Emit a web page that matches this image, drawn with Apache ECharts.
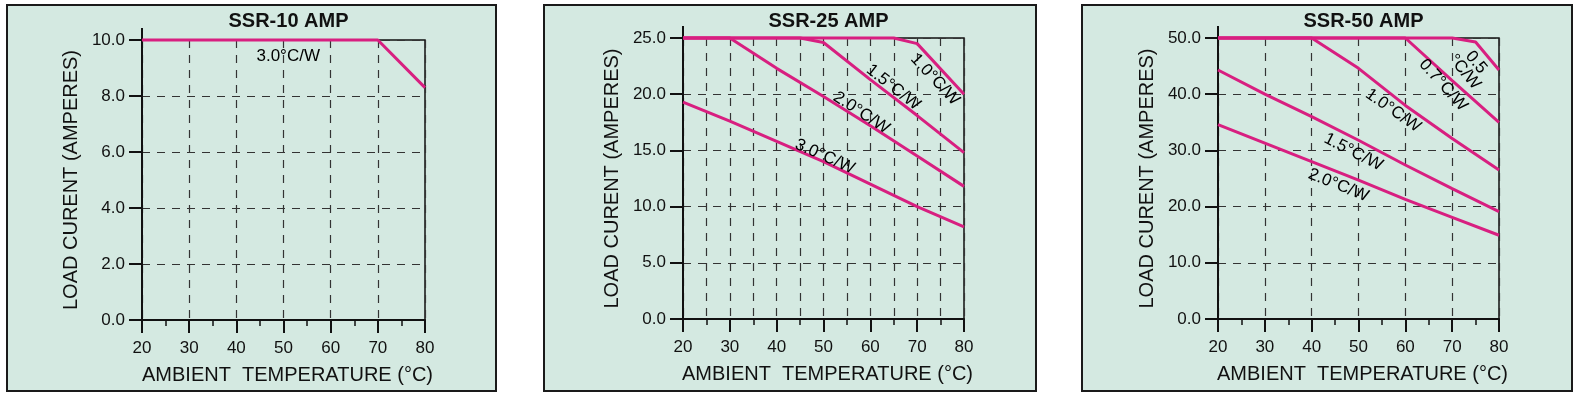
<!DOCTYPE html>
<html lang="en">
<head>
    <meta charset="utf-8">
    <title>SSR derating curves</title>
    <script type="text/javascript" src="https://cdn.jsdelivr.net/npm/echarts@6/dist/echarts.min.js"></script>
    <style>
        body { margin: 0; background: #fff; width: 1584px; height: 396px; position: relative; overflow: hidden; }
        .panel { position: absolute; top: 4px; height: 388px; box-sizing: border-box; border: 2px solid #1a1a1a; background: #d4e9e1; }
    </style>
</head>
<body>
<div id="p1" class="panel" style="left:6px;width:491px;"></div>
<div id="p2" class="panel" style="left:543px;width:494px;"></div>
<div id="p3" class="panel" style="left:1081px;width:492px;"></div>
<script>
    // x axis ticks (ambient temperature, °C)
    var tempTicks = [20, 30, 40, 50, 60, 70, 80];

    // SSR-10 AMP
    var ssr10_30 = [[20, 10], [70, 10], [80, 8.3]];
    var ssr10Labels = [[51, 9.4]];
    var ssr10Names = ['3.0°C/W'];
    var ssr10Angles = [0];

    // SSR-25 AMP
    var ssr25_10 = [[20, 25], [65, 25], [70, 24.5], [80, 20]];
    var ssr25_15 = [[20, 25], [45, 25], [50, 24.6], [60, 21.3], [70, 18.1], [80, 14.8]];
    var ssr25_20 = [[20, 25], [30, 25], [40, 22.3], [50, 19.8], [60, 17.2], [70, 14.5], [80, 11.8]];
    var ssr25_30 = [[20, 19.3], [30, 17.6], [40, 15.8], [50, 14.0], [60, 12.0], [70, 10.0], [80, 8.2]];
    var ssr25Labels = [[73.8, 21.3], [64.9, 20.6], [58.1, 18.35], [50.3, 14.45]];
    var ssr25Names = ['1.0°C/W', '1.5°C/W', '2.0°C/W', '3.0°C/W'];
    var ssr25Angles = [-47, -38, -33, -24];

    // SSR-50 AMP
    var ssr50_05 = [[20, 50], [70, 50], [75, 49.3], [80, 44.3]];
    var ssr50_07 = [[20, 50], [60, 50], [70, 42.4], [80, 35]];
    var ssr50_10 = [[20, 50], [40, 50], [50, 44.6], [60, 38], [70, 32.1], [80, 26.5]];
    var ssr50_15 = [[20, 44.3], [30, 40], [40, 36], [50, 31.8], [60, 27.4], [70, 23.2], [80, 19.1]];
    var ssr50_20 = [[20, 34.6], [30, 31.3], [40, 28], [50, 24.7], [60, 21.3], [70, 18.1], [80, 14.9]];
    var ssr50Labels = [[73.9, 44.8], [68.1, 41.6], [57.4, 37.1], [48.9, 29.7], [45.7, 23.8]];
    var ssr50Names = ['0.5\n°C/W', '0.7°C/W', '1.0°C/W', '1.5°C/W', '2.0°C/W'];
    var ssr50Angles = [-50, -48, -35, -27, -22];

    var FONT = '"Liberation Sans", Arial, sans-serif';
    var INK = '#111';
    var PINK = '#d81f80';
    var dash = { color: '#333', width: 1.2, type: [8, 7] };

    function makeOption(title, grid, yMax, yStep, curves, labelPos, labelText, labelRot, minorGrid) {
        var series = curves.map(function (c) {
            return {
                type: 'line',
                data: c,
                symbol: 'none',
                clip: false,
                lineStyle: { color: PINK, width: 3 },
                z: 3
            };
        });
        series.push({
            type: 'scatter',
            symbolSize: 0,
            z: 4,
            itemStyle: { opacity: 1 },
            data: labelPos.map(function (p, i) {
                return {
                    value: p,
                    label: { formatter: labelText[i], rotate: labelRot[i] }
                };
            }),
            label: {
                show: true, position: 'inside', color: '#000', opacity: 1,
                textBorderWidth: 0, fontFamily: FONT, fontSize: 17, lineHeight: 15
            }
        });
        return {
            animation: false,
            title: {
                text: title,
                left: grid.left + grid.width / 2,
                textAlign: 'center',
                top: 0,
                textStyle: { fontFamily: FONT, fontWeight: 'bold', fontSize: 20, color: INK }
            },
            grid: {
                left: grid.left, top: grid.top, width: grid.width, height: grid.height,
                show: true, borderColor: INK, borderWidth: 1.5, backgroundColor: 'transparent'
            },
            xAxis: {
                type: 'value',
                min: tempTicks[0],
                max: tempTicks[tempTicks.length - 1],
                interval: 10,
                name: 'AMBIENT  TEMPERATURE (°C)',
                nameLocation: 'middle',
                nameGap: 45,
                nameTextStyle: { fontFamily: FONT, fontSize: 20, color: INK, padding: [0, 0, 0, 8] },
                axisLine: { lineStyle: { color: INK, width: 2 } },
                axisTick: { length: 13, lineStyle: { color: INK, width: 2 } },
                minorTick: { show: true, splitNumber: 2, length: 6, lineStyle: { color: INK, width: 1.5 } },
                axisLabel: { margin: 20, fontFamily: FONT, fontSize: 17, color: INK },
                splitLine: { show: true, lineStyle: dash },
                minorSplitLine: { show: minorGrid, lineStyle: dash }
            },
            yAxis: {
                type: 'value',
                min: 0,
                max: yMax,
                interval: yStep,
                name: 'LOAD CURENT (AMPERES)',
                nameLocation: 'middle',
                nameGap: 56,
                nameTextStyle: { fontFamily: FONT, fontSize: 20, color: INK },
                axisLine: {
                    show: true,
                    lineStyle: { color: INK, width: 2 },
                    symbol: ['none', 'rect'],
                    symbolSize: [2, 24]
                },
                axisTick: { show: true, length: 13, lineStyle: { color: INK, width: 2 } },
                axisLabel: {
                    margin: 17, fontFamily: FONT, fontSize: 17, color: INK,
                    formatter: function (v) { return v.toFixed(1); }
                },
                splitLine: { show: true, lineStyle: dash }
            },
            series: series
        };
    }

    var c1 = echarts.init(document.getElementById('p1'));
    c1.setOption(makeOption('SSR-10 AMP', { left: 134, top: 34, width: 283, height: 282 },
        10, 2, [ssr10_30], ssr10Labels, ssr10Names, ssr10Angles, false));

    var c2 = echarts.init(document.getElementById('p2'));
    c2.setOption(makeOption('SSR-25 AMP', { left: 138, top: 32, width: 281, height: 281 },
        25, 5, [ssr25_10, ssr25_15, ssr25_20, ssr25_30], ssr25Labels, ssr25Names, ssr25Angles, true));

    var c3 = echarts.init(document.getElementById('p3'));
    c3.setOption(makeOption('SSR-50 AMP', { left: 135, top: 32, width: 281, height: 281 },
        50, 10, [ssr50_05, ssr50_07, ssr50_10, ssr50_15, ssr50_20], ssr50Labels, ssr50Names, ssr50Angles, false));
</script>
</body>
</html>
